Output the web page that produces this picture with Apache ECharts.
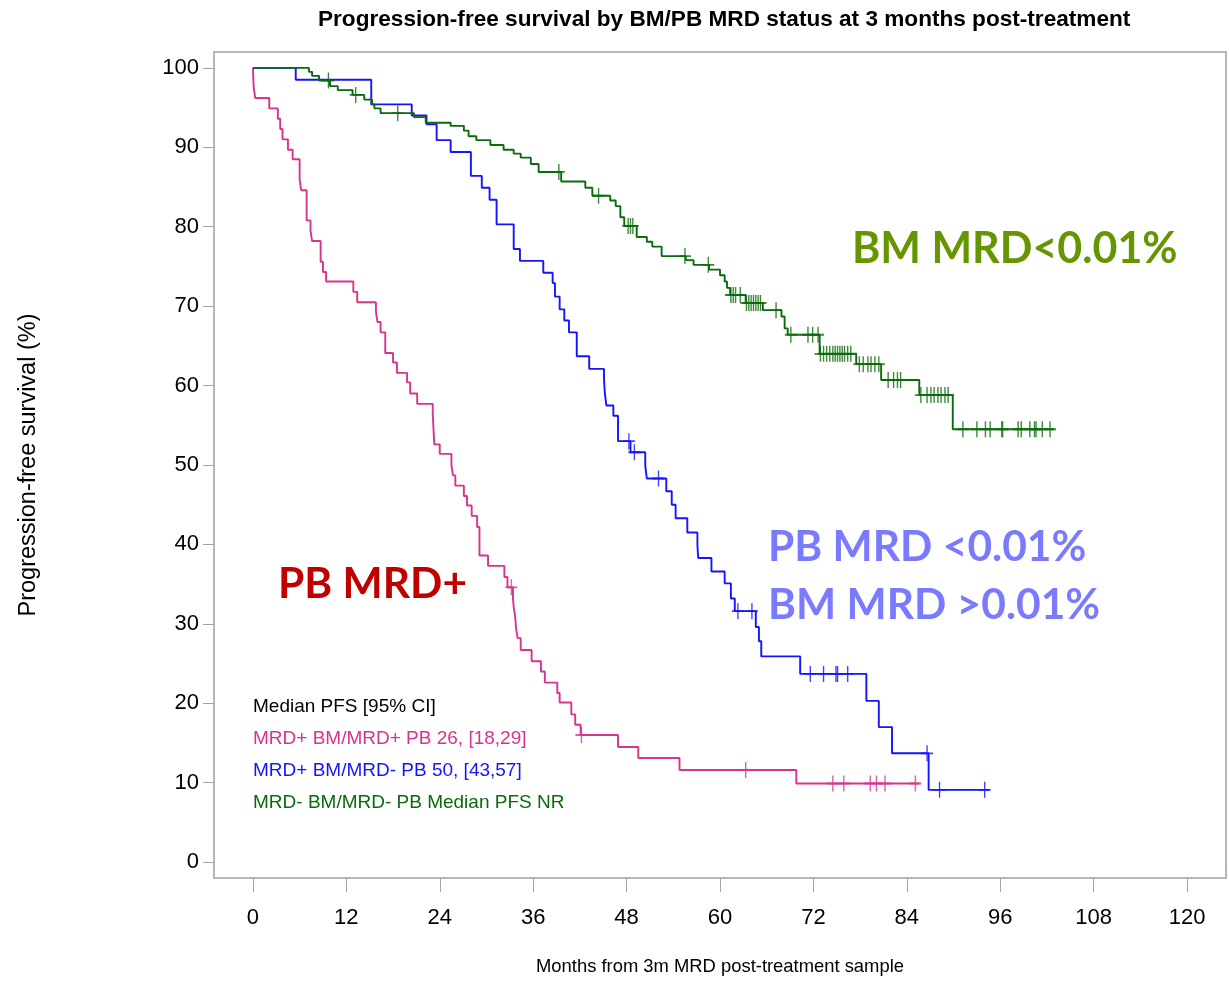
<!DOCTYPE html>
<html>
<head>
<meta charset="utf-8">
<script src="https://cdn.jsdelivr.net/npm/echarts@6/dist/echarts.min.js"></script>
<style>
  html, body { margin: 0; background: #fff; }
  #chart { width: 1229px; height: 981px; }
</style>
</head>
<body>
<div id="chart"></div>
<script>
// Kaplan-Meier step points (months, % progression-free)
const pbPosTime = [0, 0.1, 0.3, 2.1, 3.2, 3.5, 3.8, 4.5, 5.1, 6.0, 6.2, 6.9, 7.4, 7.6, 8.7, 9.0, 9.4, 12.9, 13.4, 15.8,
  16.0, 16.4, 17.0, 18.0, 18.5, 19.8, 20.2, 21.1, 23.1, 23.3, 24.0, 25.5, 25.7, 26.0, 27.1, 27.5, 28.1, 28.8, 29.1, 30.2,
  32.3, 32.7, 33.4, 33.5, 33.7, 33.8, 34.0, 34.4, 35.8, 37.0, 37.5, 39.1, 39.4, 40.9, 41.4, 42.1, 46.9, 49.5, 54.8, 69.8, 85.6];
const pbPosSurv = [100, 97.5, 96.2, 94.9, 93.6, 92.3, 91.0, 89.7, 88.5, 86.0, 84.6, 80.8, 79.5, 78.2, 75.6, 74.3, 73.1, 71.8, 70.5, 69.3,
  68.0, 66.7, 64.1, 62.9, 61.6, 60.4, 59.0, 57.7, 56.4, 52.6, 51.4, 50.0, 48.7, 47.4, 46.1, 44.9, 43.6, 42.2, 38.6, 37.3,
  35.9, 34.6, 33.3, 32.1, 30.8, 29.5, 28.2, 26.7, 25.3, 24.0, 22.6, 21.3, 20.1, 18.6, 17.3, 16.0, 14.5, 13.1, 11.6, 9.9, 9.9];
const pbPosCens = [33.2, 42.2, 63.3, 74.5, 75.9, 79.3, 80.1, 81.2, 85.1];

const bmPosTime = [0, 5.5, 15.2, 20.4, 22.3, 23.6, 25.4, 28.0, 29.4, 30.4, 31.3, 33.5, 34.3, 37.3, 38.5, 38.8, 39.4, 40.0, 40.6, 41.6,
  43.2, 45.1, 45.2, 45.4, 46.3, 46.9, 48.5, 50.4, 50.6, 53.1, 53.8, 54.3, 55.8, 57.1, 57.2, 58.9, 60.6, 61.4, 61.9, 64.6,
  65.0, 65.3, 70.3, 78.8, 80.4, 82.1, 86.8, 94.6];
const bmPosSurv = [100, 98.5, 95.4, 94.0, 92.9, 90.9, 89.4, 86.4, 84.9, 83.4, 80.3, 77.2, 75.7, 74.2, 72.9, 71.2, 69.6, 68.2, 66.7, 63.7,
  62.1, 60.8, 59.1, 57.5, 56.2, 53.0, 51.6, 49.9, 48.3, 46.7, 45.0, 43.3, 41.5, 39.9, 38.3, 36.6, 35.1, 33.2, 31.6, 29.6,
  27.8, 25.9, 23.7, 20.3, 17.0, 13.7, 9.1, 9.1];
const bmPosCens = [48.3, 49.0, 52.1, 62.3, 64.1, 71.6, 73.3, 74.9, 75.1, 76.4, 86.6, 88.2, 94.0];

const bmNegTime = [0, 7.2, 7.6, 8.5, 9.9, 10.9, 12.8, 14.3, 15.3, 15.6, 16.4, 20.7, 22.2, 25.4, 27.1, 27.7, 28.7, 30.5, 32.2, 33.5,
  34.4, 35.7, 36.7, 39.6, 42.7, 43.6, 45.9, 46.6, 47.2, 47.7, 49.3, 50.6, 51.3, 52.5, 55.6, 56.6, 58.6, 60.0, 60.6, 60.9,
  61.3, 63.3, 65.5, 67.9, 68.3, 68.7, 72.8, 77.5, 80.7, 85.6, 89.9, 102.9];
const bmNegSurv = [100, 99.5, 99.0, 98.4, 97.7, 97.2, 96.6, 96.0, 95.4, 94.9, 94.3, 93.8, 93.1, 92.7, 92.1, 91.4, 90.9, 90.3, 89.7, 89.2,
  88.7, 87.9, 86.9, 85.7, 84.9, 83.9, 83.3, 82.6, 81.2, 80.1, 78.7, 78.1, 77.5, 76.3, 75.8, 75.2, 74.6, 73.9, 73.1, 72.3,
  71.4, 70.4, 69.5, 68.7, 67.2, 66.4, 64.0, 62.7, 60.7, 58.8, 54.5, 54.5];
const bmNegCens = [9.7, 13.2, 18.6, 39.3, 44.4, 48.2, 48.5, 48.8, 55.5, 58.5, 61.4, 61.7, 62.0, 62.6, 63.4, 63.7, 64.0, 64.3, 64.6,
  64.9, 65.2, 67.2, 69.1, 71.3, 71.9, 72.6, 72.9, 73.3, 73.7, 74.1, 74.5, 74.8, 75.1, 75.4, 75.7, 76.0, 76.4, 76.8, 77.9,
  78.4, 79.0, 79.4, 79.9, 80.4, 81.6, 82.3, 82.8, 83.2, 85.8, 86.6, 87.1, 87.5, 88.0, 88.4, 88.9, 89.3, 91.2, 93.0, 94.1,
  94.7, 96.2, 96.3, 98.3, 98.7, 99.8, 100.4, 100.6, 101.4, 102.4];

const xTicks = [0, 12, 24, 36, 48, 60, 72, 84, 96, 108, 120];
const yTicks = [0, 10, 20, 30, 40, 50, 60, 70, 80, 90, 100];

const legendLines = ['Median PFS [95% CI]', 'MRD+ BM/MRD+ PB 26, [18,29]', 'MRD+ BM/MRD- PB 50, [43,57]', 'MRD- BM/MRD- PB Median PFS NR'];

const PINK = '#d8338e', BLUE = '#1414ff', GREEN = '#0b6b0b';
const SANS = "'Liberation Sans Narrow', 'Liberation Sans', Arial, sans-serif";
const CAL = "Lato, 'Open Sans', sans-serif";

function pairs(t, s) { return t.map((v, i) => [v, s[i]]); }
function survAt(t, s, x) {
  let v = s[0];
  for (let i = 0; i < t.length; i++) { if (t[i] <= x) v = s[i]; }
  return v;
}
function cens(t, s, c) { return c.map(x => [x, survAt(t, s, x)]); }

function kmLine(name, t, s, color) {
  return { name: name, type: 'line', step: 'end', data: pairs(t, s), showSymbol: false,
    lineStyle: { color: color, width: 1.9 }, z: 3 };
}
function censSeries(name, t, s, c, color) {
  return { name: name, type: 'scatter', data: cens(t, s, c),
    symbol: 'path://M5,0L5,10M0,5L10,5', symbolSize: [12, 16],
    itemStyle: { color: color, borderColor: color, borderWidth: 1.6 }, z: 4 };
}

const chart = echarts.init(document.getElementById('chart'));
const option = {
  animation: false,
  backgroundColor: '#fff',
  title: {
    text: 'Progression-free survival by BM/PB MRD status at 3 months post-treatment',
    left: 313, top: 3,
    textStyle: { fontFamily: SANS, fontSize: 22.6, fontWeight: 'bold', color: '#000' }
  },
  grid: { left: 214, right: 3, top: 52, bottom: 99, show: true, borderColor: '#b4b8bc', borderWidth: 2 },
  xAxis: {
    type: 'value', min: -5, max: 125,
    name: 'Months from 3m MRD post-treatment sample', nameLocation: 'middle', nameGap: 80,
    nameTextStyle: { fontFamily: SANS, fontSize: 18.4, color: '#000' },
    axisLine: { show: true, onZero: false, lineStyle: { color: '#b4b8bc', width: 2 } },
    axisTick: { show: true, length: 14, customValues: xTicks, lineStyle: { color: '#a0a4a8' } },
    axisLabel: { customValues: xTicks, margin: 29, fontFamily: SANS, fontSize: 22, color: '#000' },
    splitLine: { show: false }
  },
  yAxis: {
    type: 'value', min: -2, max: 102,
    name: 'Progression-free survival (%)', nameLocation: 'middle', nameGap: 173,
    nameTextStyle: { fontFamily: SANS, fontSize: 23.5, color: '#000' },
    axisLine: { show: true, onZero: false, lineStyle: { color: '#b4b8bc', width: 2 } },
    axisTick: { show: true, length: 11, customValues: yTicks, lineStyle: { color: '#a0a4a8' } },
    axisLabel: { customValues: yTicks, margin: 15, fontFamily: SANS, fontSize: 22, color: '#000' },
    splitLine: { show: false }
  },
  series: [
    kmLine('MRD+ BM/MRD+ PB', pbPosTime, pbPosSurv, PINK),
    kmLine('MRD+ BM/MRD- PB', bmPosTime, bmPosSurv, BLUE),
    kmLine('MRD- BM/MRD- PB', bmNegTime, bmNegSurv, GREEN),
    censSeries('c1', pbPosTime, pbPosSurv, pbPosCens, PINK),
    censSeries('c2', bmPosTime, bmPosSurv, bmPosCens, BLUE),
    censSeries('c3', bmNegTime, bmNegSurv, bmNegCens, GREEN)
  ],
  graphic: [
    { type: 'text', left: 852, top: 228, style: { text: 'BM MRD<0.01%', fill: '#659600', font: "bold 43px " + CAL } },
    { type: 'text', left: 768, top: 526, style: { text: 'PB MRD <0.01%', fill: '#7a7aff', font: "bold 42.5px " + CAL } },
    { type: 'text', left: 768, top: 584, style: { text: 'BM MRD >0.01%', fill: '#7a7aff', font: "bold 42.5px " + CAL } },
    { type: 'text', left: 278, top: 563, style: { text: 'PB MRD+', fill: '#c00000', font: "bold 42.5px " + CAL } },
    { type: 'text', left: 253, top: 697, style: { text: legendLines[0], fill: '#000', font: "19px " + SANS } },
    { type: 'text', left: 253, top: 729, style: { text: legendLines[1], fill: PINK, font: "19px " + SANS } },
    { type: 'text', left: 253, top: 761, style: { text: legendLines[2], fill: BLUE, font: "19px " + SANS } },
    { type: 'text', left: 253, top: 793, style: { text: legendLines[3], fill: GREEN, font: "19px " + SANS } }
  ]
};
chart.setOption(option);
</script>
</body>
</html>
